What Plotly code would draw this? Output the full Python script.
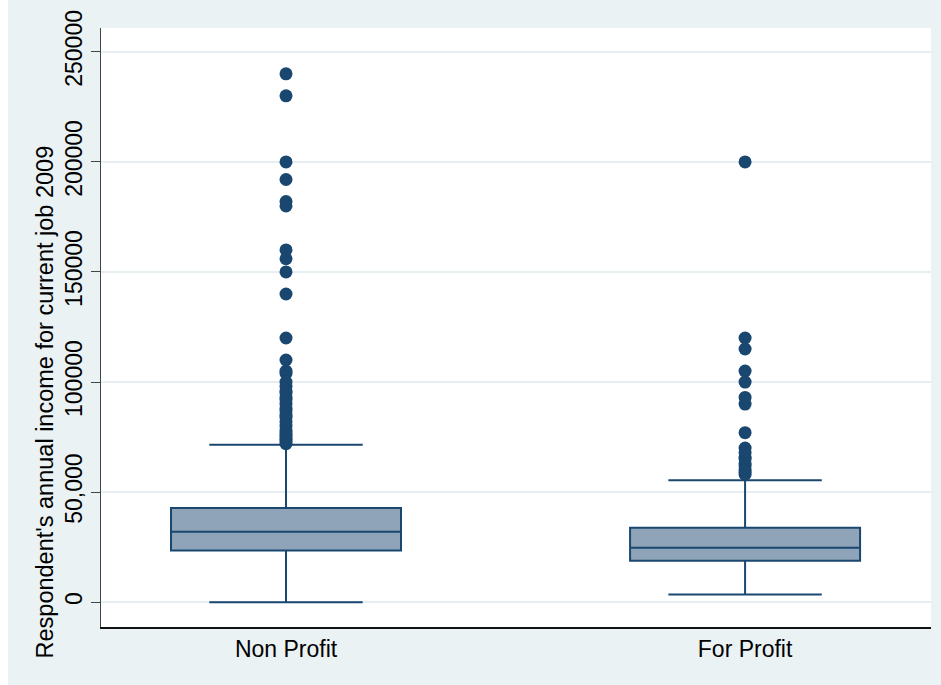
import plotly.graph_objects as go

# Sector categories and box-plot summary statistics (annual income, USD)
categories = ["Non Profit", "For Profit"]
q1 = [23500, 18800]
median = [32000, 24700]
q3 = [42800, 33800]
lower_whisker = [0, 3500]
upper_whisker = [71500, 55400]

# Values beyond the upper whisker
outliers_nonprofit = [240000, 230000, 200000, 192000, 182000, 180000, 160000,
                      156000, 150000, 140000, 120000, 110000, 105000, 104000,
                      100000, 98000, 96000, 95000, 93000, 92000, 90000, 88000,
                      87000, 85000, 84000, 82000, 80000, 78000, 77000, 76000,
                      75000, 74000, 73000, 72000]
outliers_forprofit = [200000, 120000, 115000, 105000, 100000, 93000, 90000,
                      77000, 70000, 68000, 66000, 65000, 63000, 62000, 60000,
                      59000, 58000]

# Y-axis ticks
tick_values = [0, 50000, 100000, 150000, 200000, 250000]
tick_labels = ["0", "50,000", "100000", "150000", "200000", "250000"]
y_title = "Respondent's annual income for current job 2009"

navy = "#1a476f"
bg = "#eaf2f3"
font = "Liberation Sans, Arial, sans-serif"

fig = go.Figure()

fig.add_trace(go.Box(
    x=categories,
    q1=q1, median=median, q3=q3,
    lowerfence=lower_whisker, upperfence=upper_whisker,
    boxpoints=False,
    width=0.501,
    whiskerwidth=0.667,
    fillcolor="#8fa4b8",
    line=dict(color=navy, width=2),
    hoverinfo="skip",
    showlegend=False,
))

out_x = [categories[0]] * len(outliers_nonprofit) + [categories[1]] * len(outliers_forprofit)
out_y = outliers_nonprofit + outliers_forprofit
fig.add_trace(go.Scatter(
    x=out_x, y=out_y, mode="markers",
    marker=dict(size=13, color=navy, line=dict(width=0)),
    showlegend=False,
))

fig.update_layout(
    width=941, height=685,
    margin=dict(l=101, r=10, t=24, b=58),
    paper_bgcolor=bg,
    plot_bgcolor="white",
    font=dict(family=font, size=23, color="black"),
    xaxis=dict(
        type="category",
        range=[-0.403, 1.405],
        showgrid=False,
        zeroline=False,
        showline=True, linecolor="#111111", linewidth=2,
        ticks="",
        tickfont=dict(size=23),
    ),
    yaxis=dict(
        range=[-11282, 260830],
        tickvals=tick_values,
        ticktext=tick_labels,
        tickangle=-90,
        ticks="outside", ticklen=9, tickwidth=1, tickcolor="#444444",
        showgrid=True, gridcolor="#e6eef1", gridwidth=2,
        zeroline=False,
        showline=True, linecolor="#444444", linewidth=1,
    ),
    annotations=[
        # Axis title, placed lower along the axis than the default centring
        dict(text=y_title, textangle=-90, showarrow=False,
             xref="paper", yref="paper", x=-0.0663, y=0.3765,
             xanchor="center", yanchor="middle",
             font=dict(size=23.5)),
    ],
    shapes=[
        dict(type="rect", xref="paper", yref="paper",
             x0=-0.125, x1=-0.11205, y0=-0.1, y1=1.05,
             fillcolor="white", line=dict(width=0), layer="above"),
    ],
)

fig.write_html("out.html")
